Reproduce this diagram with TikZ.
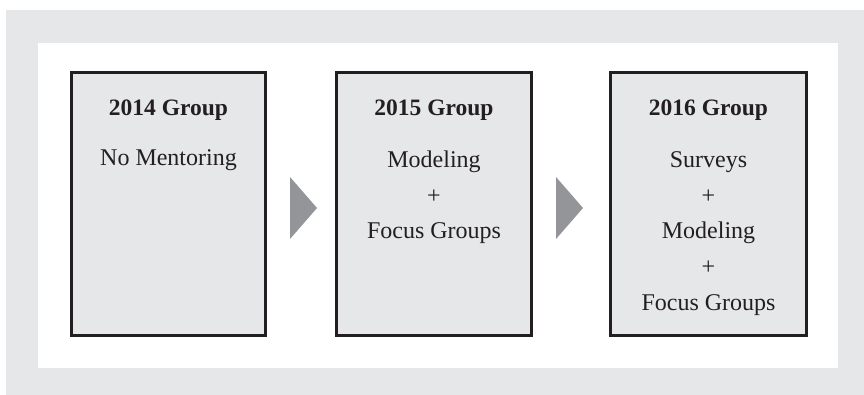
\documentclass[tikz,border=0pt]{standalone}
\usepackage{fontspec}
\setmainfont{Liberation Serif}
\definecolor{panelgray}{HTML}{E6E7E8}
\definecolor{boxgray}{HTML}{E6E7E8}
\definecolor{arrowgray}{HTML}{939598}
\definecolor{inkblack}{HTML}{231F20}
\tikzset{
  groupbox/.style={draw=inkblack, line width=2.6pt, fill=boxgray, rectangle, inner sep=0pt},
  titletext/.style={anchor=base, font=\fontsize{23.5}{35}\selectfont\bfseries, text=inkblack, inner sep=0pt},
  bodytext/.style={anchor=base, font=\fontsize{24}{35}\selectfont, text=inkblack, inner sep=0pt},
  steparrow/.style={fill=arrowgray, draw=none}
}
\begin{document}
\begin{tikzpicture}[x=1pt,y=-1pt]
\useasboundingbox (0,0) rectangle (864,395);
\fill[white] (0,0) rectangle (864,395);
\fill[panelgray] (6,10) rectangle (864,395);
\fill[white] (38,43) rectangle (838,368);
% boxes
\node[groupbox, minimum width=194.5pt, minimum height=263.5pt] (b1) at (168.5,204) {};
\node[groupbox, minimum width=195.5pt, minimum height=263.5pt] (b2) at (434,204) {};
\node[groupbox, minimum width=196.5pt, minimum height=263.5pt] (b3) at (708.5,204) {};
% arrows
\fill[steparrow] (290,177) -- (317,208) -- (290,239) -- cycle;
\fill[steparrow] (556,177) -- (583,208) -- (556,239) -- cycle;
% texts box 1
\node[titletext] (t1) at (168.5,116) {2014 Group};
\node[bodytext] (t1a) at (168.5,166) {No Mentoring};
% texts box 2
\node[titletext] (t2) at (434,116) {2015 Group};
\node[bodytext] (t2a) at (434,168) {Modeling};
\node[bodytext] (t2b) at (434,203.5) {+};
\node[bodytext] (t2c) at (434,239) {Focus Groups};
% texts box 3
\node[titletext] (t3) at (708.5,116) {2016 Group};
\node[bodytext] (t3a) at (708.5,168) {Surveys};
\node[bodytext] (t3b) at (708.5,203.5) {+};
\node[bodytext] (t3c) at (708.5,239) {Modeling};
\node[bodytext] (t3d) at (708.5,274.5) {+};
\node[bodytext] (t3e) at (708.5,310) {Focus Groups};
\end{tikzpicture}
\end{document}
